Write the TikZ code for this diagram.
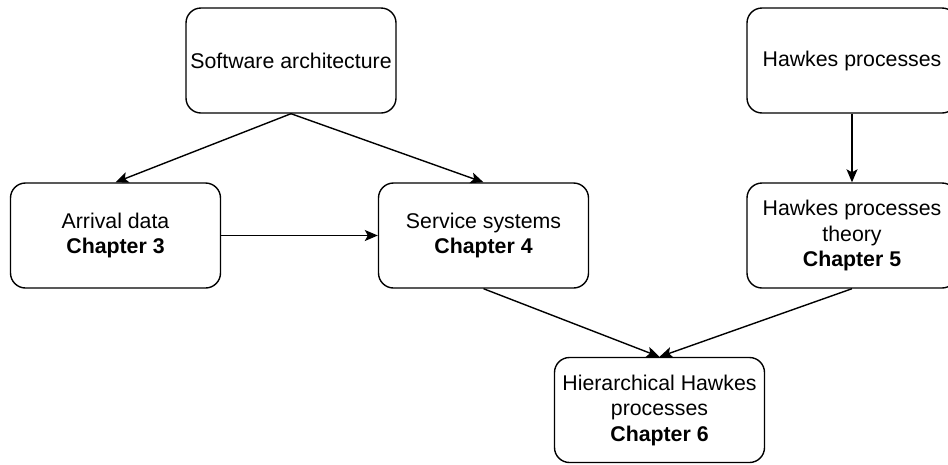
\documentclass[tikz,border=0pt]{standalone}
\usepackage{fontspec}
\setmainfont{Liberation Sans}
\usetikzlibrary{arrows.meta}
\begin{document}
\begin{tikzpicture}[x=1pt,y=-1pt,
  box/.style={draw, line width=1.4pt, rounded corners=15pt,
    minimum width=210pt, minimum height=105pt, align=center,
    inner sep=0pt, font=\fontsize{21.3}{25.5}\selectfont},
  link/.style={line width=1.4pt, -{Stealth[length=13pt,width=11pt,inset=3pt]}}]
\useasboundingbox (0,0) rectangle (948,464);
% topics
\node[box] (sw) at (291,60.5) {Software architecture};
\node[box] (hp) at (852,60.5) {Hawkes processes};
% chapters
\node[box] (ad) at (115.5,235.5) {Arrival data\\\textbf{Chapter 3}};
\node[box] (ss) at (483.5,235.5) {Service systems\\\textbf{Chapter 4}};
\node[box] (ht) at (852,235.5) {Hawkes processes\\theory\\\textbf{Chapter 5}};
\node[box] (hh) at (659.5,410) {Hierarchical Hawkes\\processes\\\textbf{Chapter 6}};
% dependencies
\draw[link] (sw.south) -- (ad.north);
\draw[link] (sw.south) -- (ss.north);
\draw[link] (ad.east) -- (ss.west);
\draw[link] (hp.south) -- (ht.north);
\draw[link] (ss.south) -- (hh.north);
\draw[link] (ht.south) -- (hh.north);
\end{tikzpicture}
\end{document}
